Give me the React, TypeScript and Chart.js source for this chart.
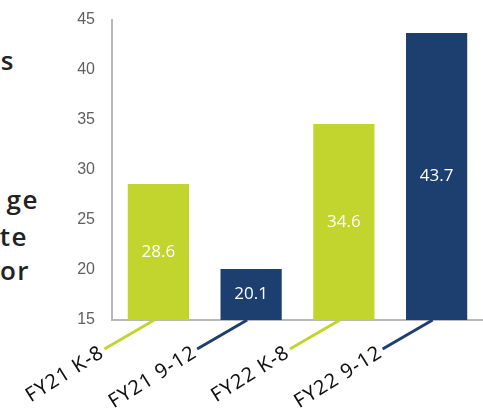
import React, { useEffect, useRef } from "react";
import { Chart, registerables } from "chart.js";

Chart.register(...registerables);

const categories = ["FY21 K-8", "FY21 9-12", "FY22 K-8", "FY22 9-12"];
const values = [28.6, 20.1, 34.6, 43.7];
const barColors = ["#c2d52f", "#1c3f70", "#c2d52f", "#1c3f70"];
const yTicks = [15, 20, 25, 30, 35, 40, 45];
const sideFragments = [
  { text: "s", right: 15, top: 45 },
  { text: "ge", right: 39, top: 184 },
  { text: "te", right: 28, top: 221 },
  { text: "or", right: 30, top: 255 },
];

const labelPlugin = {
  id: "customLabels",
  afterDatasetsDraw(chart: any) {
    const { ctx, chartArea } = chart;
    const meta = chart.getDatasetMeta(0);
    ctx.save();
    meta.data.forEach((bar: any, i: number) => {
      // value label in the middle of the visible bar
      ctx.fillStyle = "#ffffff";
      ctx.font = "17px 'Open Sans'";
      ctx.textAlign = "center";
      ctx.textBaseline = "middle";
      ctx.fillText(String(values[i]), bar.x, (bar.y + chartArea.bottom) / 2);

      // leader line
      const x0 = bar.x - 4;
      const y0 = chartArea.bottom;
      const x1 = bar.x - 54;
      const y1 = chartArea.bottom + 29;
      ctx.strokeStyle = barColors[i];
      ctx.lineWidth = 3;
      ctx.beginPath();
      ctx.moveTo(x0, y0);
      ctx.lineTo(x1, y1);
      ctx.stroke();

      // rotated category label
      ctx.save();
      ctx.translate(x1 - 2, y1 + 2);
      ctx.rotate((-32 * Math.PI) / 180);
      ctx.fillStyle = "#111111";
      ctx.font = "20px 'Noto Sans'";
      (ctx as any).letterSpacing = "1px";
      ctx.textAlign = "right";
      ctx.textBaseline = "middle";
      ctx.fillText(categories[i], 0, 0);
      ctx.restore();
    });
    ctx.restore();
  },
};

export default function App() {
  const canvasRef = useRef<HTMLCanvasElement | null>(null);

  useEffect(() => {
    if (!canvasRef.current) return;
    const chart = new Chart(canvasRef.current, {
      type: "bar",
      data: {
        labels: categories,
        datasets: [
          {
            data: values,
            backgroundColor: barColors,
            barPercentage: 0.66,
            categoryPercentage: 1,
          },
        ],
      },
      options: {
        animation: false,
        responsive: false,
        layout: { padding: { top: 20, right: 0, bottom: 0, left: 0 } },
        plugins: { legend: { display: false }, tooltip: { enabled: false } },
        scales: {
          x: {
            grid: { display: false },
            border: { display: true, color: "#b8b8b8", width: 2 },
            ticks: { display: false },
            afterFit(scale: any) {
              scale.height = 96;
            },
          },
          y: {
            min: yTicks[0],
            max: yTicks[yTicks.length - 1],
            grid: { display: false },
            border: { display: true, color: "#b8b8b8", width: 2 },
            afterBuildTicks(scale: any) {
              scale.ticks = yTicks.map((v) => ({ value: v }));
            },
            ticks: {
              color: "#606060",
              padding: 9,
              font: { size: 16, family: "'Liberation Sans'" },
            },
            afterFit(scale: any) {
              scale.width = 112;
            },
          },
        },
      },
      plugins: [labelPlugin],
    });
    return () => chart.destroy();
  }, []);

  return (
    <div style={{ position: "absolute", left: 0, top: 0, width: 483, height: 416, background: "#fff", overflow: "hidden" }}>
      {sideFragments.map((f) => (
        <div
          key={f.text}
          style={{
            position: "absolute",
            right: 483 - f.right,
            top: f.top,
            fontFamily: "'Open Sans'",
            fontWeight: 600,
            fontSize: 26,
            letterSpacing: 1.5,
            lineHeight: "30px",
            color: "#222",
            whiteSpace: "nowrap",
          }}
        >
          {f.text}
        </div>
      ))}
      <canvas ref={canvasRef} width={483} height={416} style={{ position: "absolute", left: 0, top: 0 }} />
    </div>
  );
}
